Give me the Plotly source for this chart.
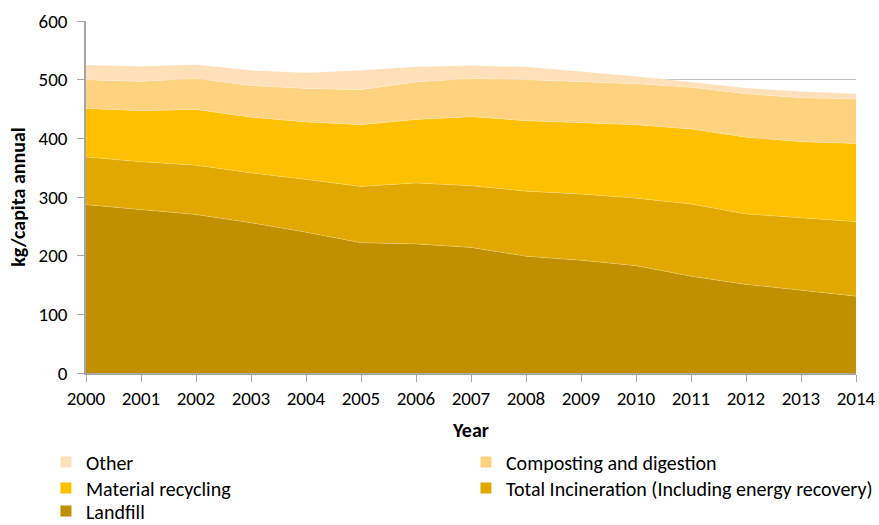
import plotly.graph_objects as go

years = list(range(2000, 2015))

# cumulative tops (kg/capita), converted to per-stream values
landfill_top    = [287, 278, 270, 256, 240, 222, 220, 214, 199, 192, 183, 165, 151, 141, 131]
incin_top       = [368, 360, 354, 341, 330, 318, 324, 319, 310, 305, 298, 288, 271, 265, 258]
recycling_top   = [451, 447, 449, 436, 428, 423, 432, 437, 430, 427, 423, 416, 402, 394, 391]
composting_top  = [500, 497, 502, 490, 485, 483, 496, 502, 500, 496, 493, 487, 476, 469, 467]
other_top       = [525, 523, 526, 516, 512, 516, 522, 524, 522, 514, 506, 496, 486, 480, 476]

landfill = landfill_top
incineration = [b - a for a, b in zip(landfill_top, incin_top)]
recycling = [b - a for a, b in zip(incin_top, recycling_top)]
composting = [b - a for a, b in zip(recycling_top, composting_top)]
other = [b - a for a, b in zip(composting_top, other_top)]

names = ["Landfill", "Total Incineration (Including energy recovery)",
         "Material recycling", "Composting and digestion", "Other"]
values = [landfill, incineration, recycling, composting, other]
colors = ["#C09000", "#E0A800", "#FFC000", "#FFD280", "#FFE0B8"]

# legend rows, as in the reference: (name, legend id)
legend_rows = [("Other", "legend"), ("Composting and digestion", "legend"),
               ("Material recycling", "legend2"),
               ("Total Incineration (Including energy recovery)", "legend2"),
               ("Landfill", "legend3")]

FONT = "Carlito, Lato, 'Open Sans', sans-serif"

fig = go.Figure()
for name, vals, col in zip(names, values, colors):
    fig.add_trace(go.Scatter(
        x=years, y=vals, name=name, mode="lines", stackgroup="one",
        line=dict(width=0.6, color="rgba(255,255,255,0.35)"),
        fillcolor=col, showlegend=False,
    ))

# legend entries with small square swatches
for name, leg in legend_rows:
    col = colors[names.index(name)]
    fig.add_trace(go.Scatter(
        x=[None], y=[None], mode="markers", name=name, legend=leg,
        marker=dict(symbol="square", size=11, color=col),
        showlegend=True,
    ))

plot_h = 352.0
def ly(px):
    return (373 - px) / plot_h

leg_common = dict(
    orientation="h", traceorder="normal",
    x=-0.052, xanchor="left", yanchor="middle",
    entrywidth=375, entrywidthmode="pixels",
    font=dict(size=20, family=FONT, color="black"), itemwidth=30,
    bgcolor="rgba(0,0,0,0)",
)

fig.update_layout(
    width=879, height=525,
    margin=dict(l=86, r=23, t=21, b=152, autoexpand=False),
    paper_bgcolor="white", plot_bgcolor="white",
    font=dict(family=FONT, size=19, color="black"),
    showlegend=True,
    legend=dict(leg_common, y=ly(462)),
    legend2=dict(leg_common, y=ly(488)),
    legend3=dict(leg_common, y=ly(511)),
    xaxis=dict(
        range=[2000, 2014], tickmode="linear", dtick=1, tick0=2000,
        showgrid=False, showline=True, linecolor="#A6A6A6", linewidth=1.5,
        ticks="outside", ticklen=7, tickcolor="#A6A6A6",
        tickfont=dict(size=19), automargin=False,
        title=dict(text="<b>Year</b>", font=dict(size=20), standoff=14),
        zeroline=False,
    ),
    yaxis=dict(
        range=[0, 600], dtick=100,
        showgrid=True, gridcolor="#BFBFBF", gridwidth=1,
        showline=True, linecolor="#A6A6A6", linewidth=1.5,
        ticks="outside", ticklen=7, tickcolor="#A6A6A6",
        tickfont=dict(size=19), automargin=False, ticklabelstandoff=6,
        title=dict(text="<b>kg/capita annual</b>", font=dict(size=20), standoff=8),
        zeroline=False,
    ),
)

fig.write_html("out.html")
